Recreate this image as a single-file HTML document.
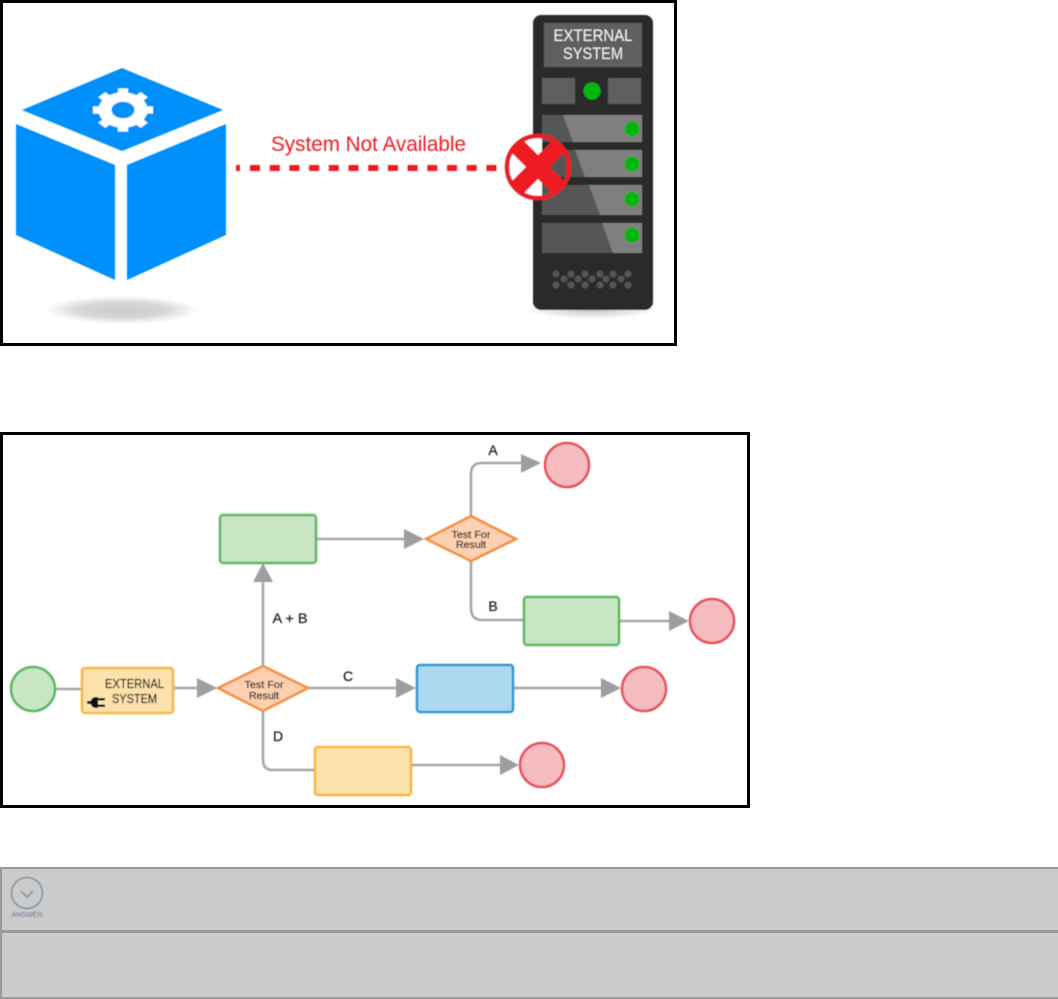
<!DOCTYPE html>
<html>
<head>
<meta charset="utf-8">
<style>
html,body{margin:0;padding:0;background:#fff;width:1058px;height:999px;overflow:hidden}
svg{display:block;font-family:"Liberation Sans",sans-serif}
</style>
</head>
<body>
<svg width="1058" height="999" viewBox="0 0 1058 999" xmlns="http://www.w3.org/2000/svg">
<defs>
<radialGradient id="sh"><stop offset="0" stop-color="#cbcbcb"/><stop offset=".55" stop-color="#d6d6d6"/><stop offset="1" stop-color="#fff"/></radialGradient>
<radialGradient id="sh2"><stop offset="0" stop-color="#c4c4c4"/><stop offset="1" stop-color="#fff"/></radialGradient>
<filter id="soft" x="-2%" y="-2%" width="104%" height="104%"><feGaussianBlur stdDeviation="0.45"/></filter>
</defs>
<rect width="1058" height="999" fill="#fff"/>
<!-- Frame 1 -->
<rect x="1.5" y="1.5" width="674" height="343" fill="#fff" stroke="#000" stroke-width="3"/>
<g filter="url(#soft)">
<ellipse cx="122" cy="310" rx="77" ry="14" fill="url(#sh)"/>
<polygon points="122,68 223,110 122,151 22,110" fill="#0090fb"/>
<polygon points="16,124 115,165 115,280 16,235" fill="#0090fb"/>
<polygon points="127,165 226,124 226,235 127,280" fill="#0090fb"/>
<!-- gear -->
<g transform="translate(123,110) scale(1,.72)">
<circle r="18" fill="none" stroke="#fff" stroke-width="13"/>
<g fill="#fff">
<rect x="-5" y="-30" width="10" height="10"/>
<rect x="-5" y="-30" width="10" height="10" transform="rotate(45)"/>
<rect x="-5" y="-30" width="10" height="10" transform="rotate(90)"/>
<rect x="-5" y="-30" width="10" height="10" transform="rotate(135)"/>
<rect x="-5" y="-30" width="10" height="10" transform="rotate(180)"/>
<rect x="-5" y="-30" width="10" height="10" transform="rotate(225)"/>
<rect x="-5" y="-30" width="10" height="10" transform="rotate(270)"/>
<rect x="-5" y="-30" width="10" height="10" transform="rotate(315)"/>
</g>
</g>
<!-- dashed connector -->
<line x1="236" y1="168" x2="498" y2="168" stroke="#ed1c24" stroke-width="6" stroke-dasharray="4 10 10 9.7 10 9.7 10 9.7 10 9.7 10 9.7 10 9.7 10 9.7 10 9.7 10 9.7 10 9.7 10 9.7 10 9.7 10 20"/>
<text x="271" y="151" font-size="21" fill="#ed1c24" textLength="195" lengthAdjust="spacingAndGlyphs">System Not Available</text>
<!-- server -->
<ellipse cx="592" cy="310" rx="67" ry="9" fill="url(#sh2)"/>
<rect x="533" y="15" width="120" height="295" rx="8" fill="#2b2b2b"/>
<rect x="544" y="23" width="98" height="44" fill="#5f5f5f"/>
<text x="593" y="41" font-size="16.500" fill="#f2f2f2" text-anchor="middle" textLength="79" lengthAdjust="spacingAndGlyphs">EXTERNAL</text>
<text x="593" y="59" font-size="16.500" fill="#f2f2f2" text-anchor="middle" textLength="60" lengthAdjust="spacingAndGlyphs">SYSTEM</text>
<rect x="542" y="78" width="33" height="26" fill="#5f5f5f"/>
<rect x="608" y="78" width="33" height="26" fill="#5f5f5f"/>
<circle cx="592" cy="91" r="8.500" fill="#00b80f"/>
<rect x="542" y="115" width="100" height="27" fill="#7f7f7f"/>
<polygon points="542,115 563,115 573,142 542,142" fill="#565656"/>
<rect x="542" y="150" width="100" height="27" fill="#7f7f7f"/>
<polygon points="542,150 575,150 585,177 542,177" fill="#565656"/>
<rect x="542" y="185" width="100" height="30" fill="#7f7f7f"/>
<polygon points="542,185 589,185 600,215 542,215" fill="#565656"/>
<rect x="542" y="223" width="100" height="30" fill="#7f7f7f"/>
<polygon points="542,223 602,223 613,253 542,253" fill="#565656"/>
<g fill="#00b80f">
<circle cx="632" cy="129" r="7.500"/>
<circle cx="632" cy="164" r="7.500"/>
<circle cx="632" cy="199" r="7.500"/>
<circle cx="632" cy="235" r="7.500"/>
</g>
<g fill="#555">
<circle cx="556" cy="274" r="3.500"/><circle cx="571" cy="274" r="3.500"/><circle cx="585" cy="274" r="3.500"/><circle cx="600" cy="274" r="3.500"/><circle cx="613" cy="274" r="3.500"/><circle cx="628" cy="274" r="3.500"/>
<circle cx="564" cy="279" r="3.500"/><circle cx="578" cy="279" r="3.500"/><circle cx="592" cy="279" r="3.500"/><circle cx="606" cy="279" r="3.500"/><circle cx="621" cy="279" r="3.500"/>
<circle cx="556" cy="285" r="3.500"/><circle cx="571" cy="285" r="3.500"/><circle cx="585" cy="285" r="3.500"/><circle cx="600" cy="285" r="3.500"/><circle cx="613" cy="285" r="3.500"/><circle cx="628" cy="285" r="3.500"/>
</g>
<!-- red X -->
<path d="M538,137 A30,30 0 0,0 538,197 L542,197 L542,137 Z" fill="#fff"/>
<circle cx="538" cy="167" r="31" fill="none" stroke="#ed1c24" stroke-width="4.500"/>
<line x1="517" y1="146" x2="559" y2="188" stroke="#ed1c24" stroke-width="17"/>
<line x1="559" y1="146" x2="517" y2="188" stroke="#ed1c24" stroke-width="17"/>
</g>
<!-- Frame 2 -->
<rect x="1.5" y="433.500" width="747" height="373" fill="#fff" stroke="#000" stroke-width="3"/>
<g filter="url(#soft)">
<!-- connectors -->
<g fill="none" stroke="#a4a6a9" stroke-width="2.500">
<path d="M56,689H82"/>
<path d="M173,688H198"/>
<path d="M263,665V580"/>
<path d="M308,688H396"/>
<path d="M263,712V760Q263,770 273,770H315"/>
<path d="M316,539H405"/>
<path d="M471,517V474Q471,463 482,463H522"/>
<path d="M471,562V608Q471,620 482,620H523"/>
<path d="M620,621H670"/>
<path d="M513,688H602"/>
<path d="M412,765H501"/>
</g>
<g fill="#9c9ea1">
<polygon points="197,678 217,688 197,698"/>
<polygon points="253,582 263,563 273,582"/>
<polygon points="396,678 416,688 396,698"/>
<polygon points="404,529 424,539 404,549"/>
<polygon points="521,454 541,463 521,473"/>
<polygon points="669,611 689,621 669,631"/>
<polygon points="601,678 621,688 601,698"/>
<polygon points="500,755 519,765 500,775"/>
</g>
<!-- circles -->
<circle cx="33" cy="689" r="22" fill="#c8e6c4" stroke="#5cb85c" stroke-width="2.500"/>
<circle cx="567" cy="465" r="22" fill="#f4bcbf" stroke="#e8505b" stroke-width="2.500"/>
<circle cx="712" cy="621" r="22" fill="#f4bcbf" stroke="#e8505b" stroke-width="2.500"/>
<circle cx="644" cy="689" r="22" fill="#f4bcbf" stroke="#e8505b" stroke-width="2.500"/>
<circle cx="542" cy="765" r="22" fill="#f4bcbf" stroke="#e8505b" stroke-width="2.500"/>
<!-- tasks -->
<rect x="82" y="668" width="91" height="45" rx="3" fill="#fde3ab" stroke="#fbb53c" stroke-width="2.500"/>
<rect x="220" y="515" width="96" height="48" rx="3" fill="#c8e6c4" stroke="#5cb85c" stroke-width="2.500"/>
<rect x="524" y="597" width="95" height="48" rx="3" fill="#c8e6c4" stroke="#5cb85c" stroke-width="2.500"/>
<rect x="417" y="665" width="96" height="47" rx="3" fill="#acd9f0" stroke="#2d96d8" stroke-width="2.500"/>
<rect x="315" y="747" width="96" height="48" rx="3" fill="#fde3ab" stroke="#fbb53c" stroke-width="2.500"/>
<!-- diamonds -->
<polygon points="263,666 308,688 263,711 218,688" fill="#fdd0b1" stroke="#f68e3e" stroke-width="2.500"/>
<polygon points="471,516 516,539 471,561 426,539" fill="#fdd0b1" stroke="#f68e3e" stroke-width="2.500"/>
<!-- plug icon -->
<g fill="#111">
<rect x="87" y="701" width="7" height="3"/>
<path d="M99,697V708H97A5.500,5.500 0 0,1 97,697Z" transform="translate(-1,0)"/>
<rect x="98" y="698" width="7" height="2.500"/>
<rect x="98" y="704.500" width="7" height="2.500"/>
</g>
<!-- labels -->
<g fill="#1c1c1c" text-anchor="middle" stroke="#1c1c1c" stroke-width="0.250">
<text x="134.500" y="688" font-size="12.500" textLength="59" lengthAdjust="spacingAndGlyphs">EXTERNAL</text>
<text x="134.500" y="703" font-size="12.500" textLength="45" lengthAdjust="spacingAndGlyphs">SYSTEM</text>
<text x="264" y="688" font-size="10.500" textLength="39" lengthAdjust="spacingAndGlyphs">Test For</text>
<text x="264" y="699" font-size="10.500" textLength="30" lengthAdjust="spacingAndGlyphs">Result</text>
<text x="471" y="538" font-size="10.500" textLength="39" lengthAdjust="spacingAndGlyphs">Test For</text>
<text x="471" y="548" font-size="10.500" textLength="30" lengthAdjust="spacingAndGlyphs">Result</text>
<text x="493" y="455" font-size="14">A</text>
<text x="493" y="611" font-size="14">B</text>
<text x="290" y="623" font-size="14" textLength="35" lengthAdjust="spacingAndGlyphs">A + B</text>
<text x="348" y="681" font-size="14">C</text>
<text x="278" y="741" font-size="14">D</text>
</g>
</g>
<!-- Answer panels -->
<rect x="0" y="867" width="1058" height="132" fill="#9a9a9a"/>
<rect x="2" y="869" width="1056" height="61" fill="#cbcbcb"/>
<rect x="2" y="933" width="1056" height="64" fill="#cbcbcb"/>
<g filter="url(#soft)">
<circle cx="27" cy="893" r="15.500" fill="none" stroke="#7d93a6" stroke-width="1.500"/>
<path d="M21,891L27,897L33,891" fill="none" stroke="#7d93a6" stroke-width="1.500"/>
<text x="27" y="917" font-size="7" fill="#6a7c8f" text-anchor="middle" textLength="31" lengthAdjust="spacingAndGlyphs">ANSWER</text>
</g>
</svg>
</body>
</html>
